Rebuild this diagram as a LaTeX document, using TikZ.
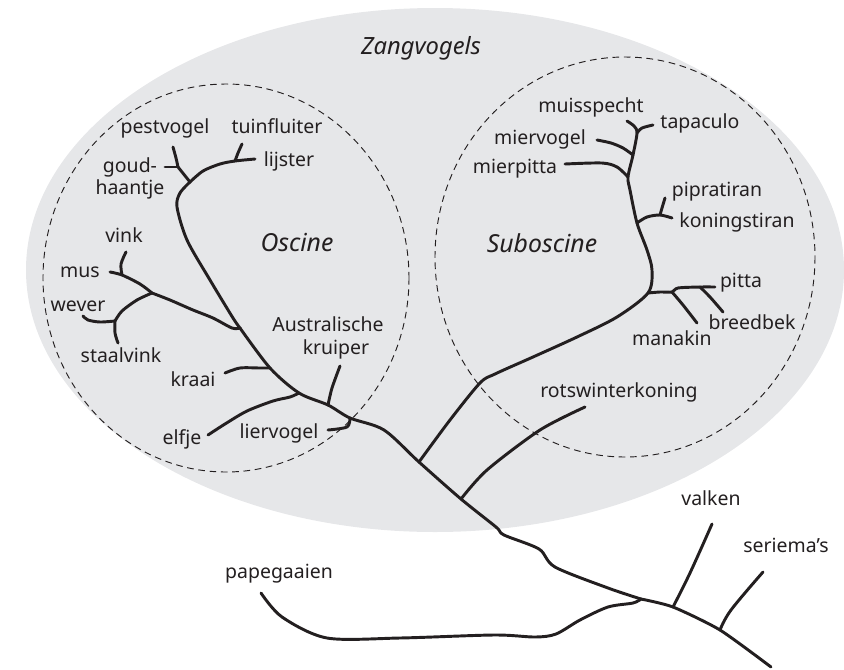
\documentclass[tikz,border=0pt]{standalone}
\usepackage{fontspec}
\setmainfont{Noto Sans}
\definecolor{bgc}{RGB}{230,231,233}
\definecolor{txt}{RGB}{35,31,32}
\begin{document}
\begin{tikzpicture}[x=0.75pt,y=-0.75pt,
  branch/.style={line width=2.2pt, draw=txt, line cap=round, line join=round},
  clade/.style={draw=txt, line width=0.7pt, dash pattern=on 5pt off 3.5pt},
  lbl/.style={font=\fontsize{14.6}{16}\selectfont, text=txt, anchor=base, inner sep=0pt},
  grp/.style={font=\fontsize{18.6}{20}\selectfont\itshape, text=txt, anchor=base, inner sep=0pt}]
\useasboundingbox (0,0) rectangle (844,669);
% regions
\coordinate (cz) at (435,270);
\coordinate (co) at (226,278);
\coordinate (cs) at (625,257);
\fill[bgc] (cz) ellipse [x radius=409, y radius=262];
\draw[clade] (co) ellipse [x radius=183, y radius=194];
\draw[clade] (cs) ellipse [x radius=190, y radius=200];
% ---- coordinates of the tree
\coordinate (E) at (771,667);
\coordinate (SJ) at (720,630);
\coordinate (VJ) at (673,607);
\coordinate (R) at (641,599);
\coordinate (t1) at (608,588);
\coordinate (t2) at (555,567);
\coordinate (t3) at (539,549);
\coordinate (t4) at (504,535);
\coordinate (t5) at (496,527);
\coordinate (RW) at (461,499);
\coordinate (SB) at (419,462);
\coordinate (t6) at (384,430);
\coordinate (LV) at (350,418);
\coordinate (AK) at (328,405);
\coordinate (EL) at (299,393);
\coordinate (KR) at (270,368);
\coordinate (BJ) at (240,328);
\coordinate (GJ) at (190,182);
\coordinate (PG) at (178,167);
\coordinate (TJ) at (235,161);
\coordinate (VG) at (152,293);
\coordinate (MJ) at (122,275);
\coordinate (WJ) at (115,321);
\coordinate (PJ) at (648,293);
\coordinate (PIJ) at (637,223);
\coordinate (PTJ) at (660,215);
\coordinate (MPJ) at (628,177);
\coordinate (MVJ) at (633,155);
\coordinate (MSJ) at (637,133);
\coordinate (MNJ) at (672,292);
\coordinate (BBJ) at (700,287);
% leaf ends
\coordinate (papE) at (261,593);
\coordinate (valE) at (712,524);
\coordinate (serE) at (763,572);
\coordinate (rotE) at (585,407);
\coordinate (lieE) at (328,430);
\coordinate (ausE) at (340,366);
\coordinate (elfE) at (208,435);
\coordinate (kraE) at (225,373);
\coordinate (pesE) at (173,147);
\coordinate (gouE) at (165,167);
\coordinate (lijE) at (255,159);
\coordinate (tuiE) at (242,144);
\coordinate (musE) at (110,272);
\coordinate (vinE) at (126,252);
\coordinate (wevE) at (83,316);
\coordinate (staE) at (118,343);
\coordinate (muiE) at (627,121);
\coordinate (tapE) at (653,125);
\coordinate (mvoE) at (597,140);
\coordinate (mpiE) at (565,164);
\coordinate (pipE) at (665,198);
\coordinate (konE) at (672,218);
\coordinate (pitE) at (715,287);
\coordinate (manE) at (697,323);
\coordinate (breE) at (723,312);
% ---- branches
\draw[branch] plot[smooth, tension=0.4] coordinates {(E) (SJ) (VJ) (R)};
\draw[branch] plot[smooth, tension=0.5] coordinates {(R) (t1) (t2) (t3) (t4) (t5) (RW) (SB) (t6) (LV) (AK) (EL) (KR) (BJ)};
\draw[branch] plot[smooth, tension=0.5] coordinates {(R) (633,603) (608,607) (580,620) (556,634) (535,637) (494,635) (400,638) (327,638) (282,617) (papE)};
\draw[branch] plot[smooth, tension=0.6] coordinates {(VJ) (690,573) (valE)};
\draw[branch] plot[smooth, tension=0.6] coordinates {(SJ) (731,610) (serE)};
\draw[branch] plot[smooth, tension=0.5] coordinates {(RW) (487,470) (540,430) (rotE)};
% suboscine
\draw[branch] plot[smooth, tension=0.5] coordinates {(SB) (450,420) (480,383) (495,374) (533,357) (577,337) (617,317) (PJ) (652,270) (647,250) (PIJ) (630,190) (MPJ) (MVJ) (MSJ) (634,126) (muiE)};
\draw[branch] plot[smooth, tension=0.5] coordinates {(MSJ) (642,128) (tapE)};
\draw[branch] plot[smooth, tension=0.5] coordinates {(MVJ) (623,148) (611,143) (mvoE)};
\draw[branch] plot[smooth, tension=0.5] coordinates {(MPJ) (617,167) (602,163) (mpiE)};
\draw[branch] plot[smooth, tension=0.5] coordinates {(PIJ) (647,217) (PTJ) (konE)};
\draw[branch] plot[smooth, tension=0.5] coordinates {(PTJ) (662,208) (pipE)};
\draw[branch] plot[smooth, tension=0.5] coordinates {(PJ) (660,292) (MNJ) (678,288) (BBJ) (pitE)};
\draw[branch] plot[smooth, tension=0.5] coordinates {(MNJ) (683,305) (manE)};
\draw[branch] plot[smooth, tension=0.5] coordinates {(BBJ) (710,297) (breE)};
% oscine
\draw[branch] plot[smooth, tension=0.5] coordinates {(LV) (347,427) (lieE)};
\draw[branch] plot[smooth, tension=0.5] coordinates {(AK) (332,388) (ausE)};
\draw[branch] plot[smooth, tension=0.5] coordinates {(EL) (290,397) (273,401) (247,411) (225,424) (elfE)};
\draw[branch] plot[smooth, tension=0.5] coordinates {(KR) (260,368) (240,368) (kraE)};
\draw[branch] plot[smooth, tension=0.5] coordinates {(BJ) (233,318) (210,280) (187,240) (177,207) (180,193) (GJ)};
\draw[branch] (GJ) -- (PG);
\draw[branch] plot[smooth, tension=0.5] coordinates {(PG) (176,158) (pesE)};
\draw[branch] (PG) -- (gouE);
\draw[branch] plot[smooth, tension=0.5] coordinates {(GJ) (203,171) (220,164) (TJ) (lijE)};
\draw[branch] plot[smooth, tension=0.5] coordinates {(TJ) (238,153) (tuiE)};
\draw[branch] plot[smooth, tension=0.5] coordinates {(BJ) (232,328) (213,318) (193,310) (170,300) (VG)};
\draw[branch] plot[smooth, tension=0.5] coordinates {(VG) (140,284) (MJ) (musE)};
\draw[branch] plot[smooth, tension=0.5] coordinates {(MJ) (121,264) (vinE)};
\draw[branch] plot[smooth, tension=0.5] coordinates {(VG) (137,300) (122,311) (WJ)};
\draw[branch] plot[smooth, tension=0.5] coordinates {(WJ) (100,322) (88,320) (wevE)};
\draw[branch] plot[smooth, tension=0.5] coordinates {(WJ) (115,333) (staE)};
% ---- labels
\node[grp, font=\fontsize{17.8}{20}\selectfont\itshape] (lz) at (421,54) {Zangvogels};
\node[grp] (lo) at (297,251) {Oscine};
\node[grp] (ls) at (542,252) {Suboscine};
\node[lbl] (lpes) at (165,133) {pestvogel};
\node[lbl] (ltui) at (277,133) {tuinfluiter};
\node[lbl] (lgou) at (130,172) {goud-};
\node[lbl] (lhaa) at (130,194) {haantje};
\node[lbl] (llij) at (289,166) {lijster};
\node[lbl] (lvin) at (124,242) {vink};
\node[lbl] (lmus) at (80,277) {mus};
\node[lbl] (lwev) at (78,311) {wever};
\node[lbl] (lsta) at (121,362) {staalvink};
\node[lbl] (lkra) at (193,386) {kraai};
\node[lbl] (laus) at (328,331) {Australische};
\node[lbl] (lkru) at (336,354) {kruiper};
\node[lbl] (lelf) at (182,444) {elfje};
\node[lbl] (llie) at (279,438) {liervogel};
\node[lbl] (lmui) at (591,112) {muisspecht};
\node[lbl] (ltap) at (700,128) {tapaculo};
\node[lbl] (lmvo) at (540,144) {miervogel};
\node[lbl] (lmpi) at (515,173) {mierpitta};
\node[lbl] (lpip) at (717,196) {pipratiran};
\node[lbl] (lkon) at (737,227) {koningstiran};
\node[lbl] (lpit) at (741,287) {pitta};
\node[lbl] (lbre) at (752,329) {breedbek};
\node[lbl] (lman) at (672,345) {manakin};
\node[lbl] (lrot) at (619,397) {rotswinterkoning};
\node[lbl] (lval) at (711,505) {valken};
\node[lbl] (lser) at (786,552) {seriema’s};
\node[lbl] (lpap) at (279,578) {papegaaien};
\end{tikzpicture}
\end{document}
